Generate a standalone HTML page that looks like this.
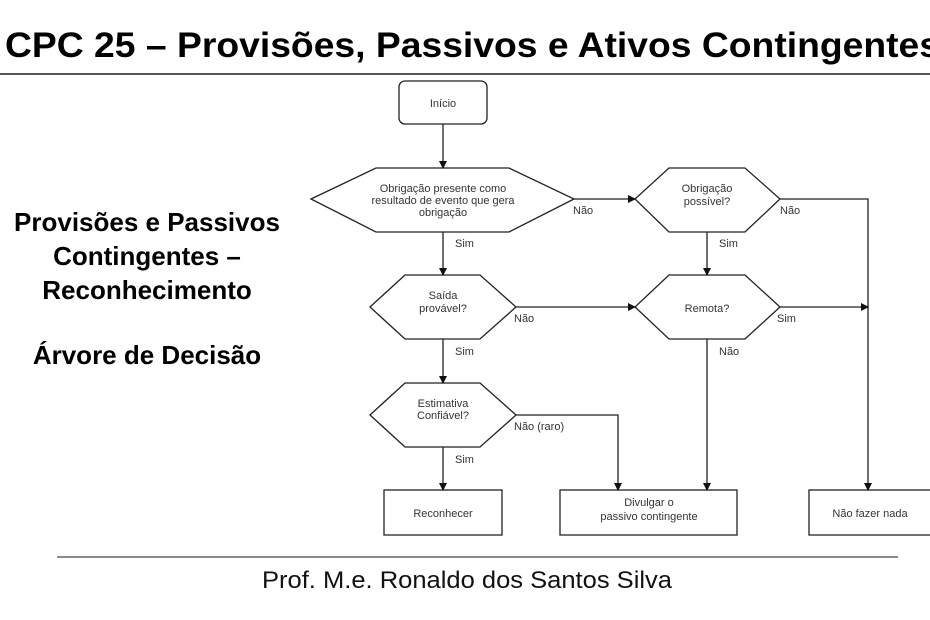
<!DOCTYPE html>
<html><head><meta charset="utf-8"><style>
html,body{margin:0;padding:0;background:#fff;}
svg{display:block;}
</style></head><body>
<svg width="930" height="620" viewBox="0 0 930 620" xmlns="http://www.w3.org/2000/svg">
<defs><marker id="a" markerWidth="8" markerHeight="8" refX="7" refY="4" orient="auto" markerUnits="userSpaceOnUse"><path d="M0,0 L8,4 L0,8 z" fill="#111"/></marker></defs>
<rect width="930" height="620" fill="#fff"/>
<text x="5" y="57" font-family="Liberation Sans, sans-serif" font-weight="bold" font-size="35" textLength="935" lengthAdjust="spacingAndGlyphs" fill="#000">CPC 25 – Provisões, Passivos e Ativos Contingentes</text>
<line x1="0" y1="74" x2="930" y2="74" stroke="#555" stroke-width="2"/>
<g font-family="Liberation Sans, sans-serif" font-weight="bold" font-size="26" text-anchor="middle" fill="#000">
<text x="147" y="231">Provisões e Passivos</text>
<text x="147" y="265">Contingentes –</text>
<text x="147" y="299">Reconhecimento</text>
<text x="147" y="364">Árvore de Decisão</text>
</g>
<g fill="#fff" stroke="#222" stroke-width="1.3">
<rect x="399" y="81" width="88" height="43" rx="6"/>
<polygon points="311,199 376,168 509,168 574,199 509,232 376,232"/>
<polygon points="635,199 669,168 745,168 780,199 745,232 669,232"/>
<polygon points="370,307 405,275 480,275 516,307 480,339 405,339"/>
<polygon points="635,307 669,275 745,275 780,307 745,339 669,339"/>
<polygon points="370,415 405,383 480,383 516,415 480,447 405,447"/>
<rect x="384" y="490" width="118" height="45"/>
<rect x="560" y="490" width="177" height="45"/>
<rect x="809" y="490" width="130" height="45"/>
</g>
<g stroke="#222" stroke-width="1.3" fill="none" marker-end="url(#a)">
<line x1="443" y1="124" x2="443" y2="168"/>
<line x1="574" y1="199" x2="635" y2="199"/>
<polyline points="780,199 868,199 868,490"/>
<line x1="443" y1="232" x2="443" y2="275"/>
<line x1="707" y1="232" x2="707" y2="275"/>
<line x1="516" y1="307" x2="635" y2="307"/>
<line x1="780" y1="307" x2="868" y2="307"/>
<line x1="443" y1="339" x2="443" y2="383"/>
<line x1="707" y1="339" x2="707" y2="490"/>
<polyline points="516,415 618,415 618,490"/>
<line x1="443" y1="447" x2="443" y2="490"/>
</g>
<g font-family="Liberation Sans, sans-serif" font-size="11" fill="#333" text-anchor="middle">
<text x="443" y="107">Início</text>
<text x="443" y="192">Obrigação presente como</text>
<text x="443" y="204">resultado de evento que gera</text>
<text x="443" y="216">obrigação</text>
<text x="707" y="192">Obrigação</text>
<text x="707" y="205">possível?</text>
<text x="443" y="299">Saída</text>
<text x="443" y="312">provável?</text>
<text x="707" y="312">Remota?</text>
<text x="443" y="407">Estimativa</text>
<text x="443" y="419">Confiável?</text>
<text x="443" y="517">Reconhecer</text>
<text x="649" y="506">Divulgar o</text>
<text x="649" y="520">passivo contingente</text>
<text x="870" y="517">Não fazer nada</text>
</g>
<g font-family="Liberation Sans, sans-serif" font-size="11" fill="#333">
<text x="573" y="214">Não</text>
<text x="780" y="214">Não</text>
<text x="455" y="247">Sim</text>
<text x="719" y="247">Sim</text>
<text x="514" y="322">Não</text>
<text x="777" y="322">Sim</text>
<text x="455" y="355">Sim</text>
<text x="719" y="355">Não</text>
<text x="514" y="430">Não (raro)</text>
<text x="455" y="463">Sim</text>
</g>
<line x1="57" y1="557" x2="898" y2="557" stroke="#444" stroke-width="1.3"/>
<text x="262" y="588" font-family="Liberation Sans, sans-serif" font-size="24" textLength="410" lengthAdjust="spacingAndGlyphs" fill="#111">Prof. M.e. Ronaldo dos Santos Silva</text>
</svg>
</body></html>
